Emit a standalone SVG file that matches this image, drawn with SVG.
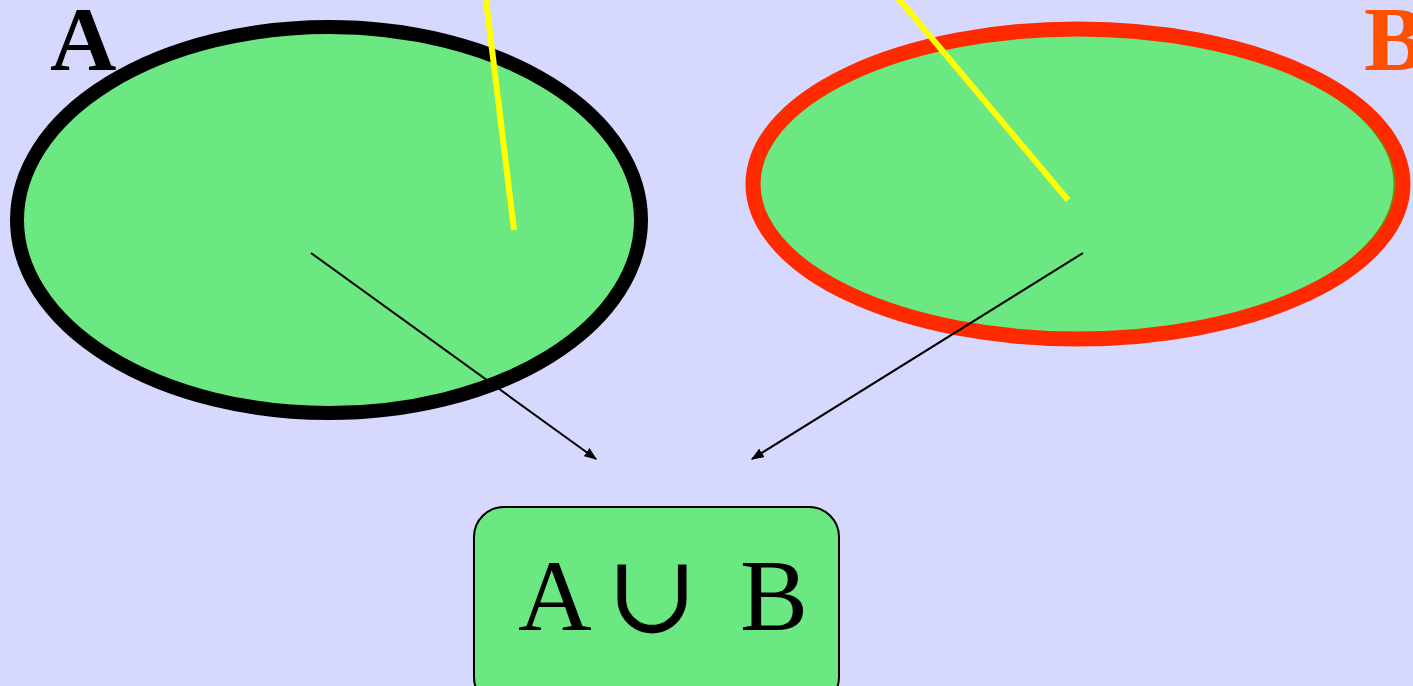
<svg xmlns="http://www.w3.org/2000/svg" width="1413" height="686" viewBox="0 0 1413 686">
<style>
.bg{fill:#D6D8FE}
.set{fill:#6BE882}
.lbl{font-family:"Liberation Serif","Times New Roman",serif;font-weight:bold;font-size:92px}
.ray{stroke:#FFFF00;stroke-width:6;fill:none}
.arr{stroke:#000;stroke-width:2;fill:none;marker-end:url(#ah)}
.res{font-family:"Liberation Serif","Times New Roman",serif;font-size:102px;fill:#000}
.cup{font-family:"DejaVu Serif","DejaVu Sans",serif;font-weight:normal}
</style>
<defs>
<marker id="ah" viewBox="0 0 10 10" refX="9" refY="5" markerWidth="13" markerHeight="10" orient="auto" markerUnits="userSpaceOnUse" preserveAspectRatio="none">
<path d="M0,0 L10,5 L0,10 z" fill="#000"/>
</marker>
</defs>
<rect class="bg" x="0" y="0" width="1413" height="686"/>
<g id="setA">
<ellipse class="set" cx="329" cy="220" rx="312" ry="193" stroke="#000" stroke-width="14"/>
<text class="lbl" x="50" y="70" fill="#000">A</text>
</g>
<g id="setB">
<ellipse class="set" cx="1073" cy="184" rx="322" ry="151" stroke="#7A8A00" stroke-width="3"/>
<ellipse cx="1078" cy="184" rx="325" ry="155" fill="none" stroke="#FF2A00" stroke-width="15"/>
<text class="lbl" x="1364" y="70" fill="#FF5000">B</text>
</g>
<g id="rays">
<line class="ray" x1="486" y1="0" x2="514" y2="230"/>
<line class="ray" x1="898" y1="-2" x2="1068" y2="200"/>
</g>
<g id="connectors">
<line class="arr" x1="311" y1="253" x2="596" y2="459"/>
<line class="arr" x1="1083" y1="253" x2="752" y2="459"/>
</g>
<g id="union">
<rect x="474" y="507" width="365" height="200" rx="30" ry="30" fill="#6BE882" stroke="#000" stroke-width="2"/>
<text class="res" y="630"><tspan x="518">A</tspan><tspan class="cup" x="606" y="632" font-size="110">∪</tspan><tspan x="740" y="630">B</tspan></text>
</g>
</svg>
